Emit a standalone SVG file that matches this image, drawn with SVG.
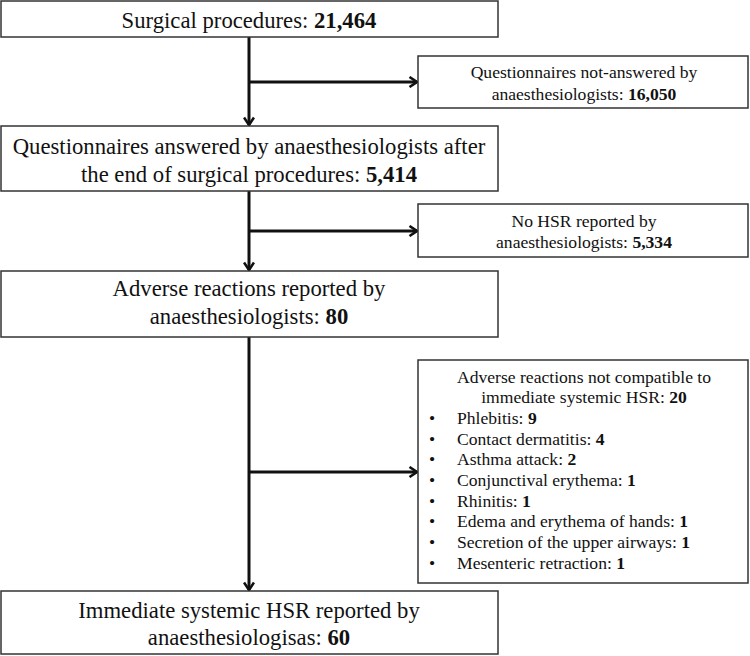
<svg xmlns="http://www.w3.org/2000/svg" width="750" height="656" viewBox="0 0 750 656">
<defs>
<marker id="ah" viewBox="0 0 12 12" refX="10.5" refY="6" markerWidth="12" markerHeight="12" markerUnits="userSpaceOnUse" orient="auto">
<path d="M3,1 L10.5,6 L3,11" fill="none" stroke="#111" stroke-width="2.6"/>
</marker>
</defs>
<style>
.box{fill:#fff;stroke:#333;stroke-width:1.5}
text{fill:#111}
.big{font-size:22.7px;text-anchor:middle}
.sm{font-size:17.6px}
.c{text-anchor:middle}
.b{font-weight:bold}
.conn{fill:none;stroke:#111;stroke-width:3}
</style>
<rect width="750" height="656" fill="#fff"/>
<g id="connectors">
<path class="conn" d="M249,37 V125" marker-end="url(#ah)"/>
<path class="conn" d="M249,82 H417" marker-end="url(#ah)"/>
<path class="conn" d="M249,191 V270" marker-end="url(#ah)"/>
<path class="conn" d="M249,231 H417" marker-end="url(#ah)"/>
<path class="conn" d="M249,337 V590" marker-end="url(#ah)"/>
<path class="conn" d="M249,472 H417" marker-end="url(#ah)"/>
</g>
<g font-family="Liberation Serif, DejaVu Serif, serif">
<g id="n1">
<rect class="box" x="1" y="1" width="497" height="36"/>
<text class="big" x="249" y="28">Surgical procedures: <tspan class="b">21,464</tspan></text>
</g>
<g id="n2">
<rect class="box" x="1" y="126" width="497" height="65"/>
<text class="big" x="249" y="154">Questionnaires answered by anaesthesiologists after</text>
<text class="big" x="249" y="182">the end of surgical procedures: <tspan class="b">5,414</tspan></text>
</g>
<g id="n3">
<rect class="box" x="1" y="271" width="497" height="66"/>
<text class="big" x="249" y="296">Adverse reactions reported by</text>
<text class="big" x="249" y="324">anaesthesiologists: <tspan class="b">80</tspan></text>
</g>
<g id="n4">
<rect class="box" x="1" y="591" width="497" height="63"/>
<text class="big" x="249" y="618">Immediate systemic HSR reported by</text>
<text class="big" x="249" y="645">anaesthesiologisas: <tspan class="b">60</tspan></text>
</g>
<g id="nA">
<rect class="box" x="418" y="56" width="330" height="52"/>
<text class="sm c" x="584" y="78">Questionnaires not-answered by</text>
<text class="sm c" x="584" y="100">anaesthesiologists: <tspan class="b">16,050</tspan></text>
</g>
<g id="nB">
<rect class="box" x="418" y="204" width="330" height="53"/>
<text class="sm c" x="584" y="227">No HSR reported by</text>
<text class="sm c" x="584" y="248">anaesthesiologists: <tspan class="b">5,334</tspan></text>
</g>
<g id="nC">
<rect class="box" x="418" y="360" width="330" height="223"/>
<text class="sm c" x="584" y="383">Adverse reactions not compatible to</text>
<text class="sm c" x="584" y="403">immediate systemic HSR: <tspan class="b">20</tspan></text>
<text class="sm" x="429" y="424">•</text><text class="sm" x="457" y="424">Phlebitis: <tspan class="b">9</tspan></text>
<text class="sm" x="429" y="445">•</text><text class="sm" x="457" y="445">Contact dermatitis: <tspan class="b">4</tspan></text>
<text class="sm" x="429" y="465">•</text><text class="sm" x="457" y="465">Asthma attack: <tspan class="b">2</tspan></text>
<text class="sm" x="429" y="486">•</text><text class="sm" x="457" y="486">Conjunctival erythema: <tspan class="b">1</tspan></text>
<text class="sm" x="429" y="507">•</text><text class="sm" x="457" y="507">Rhinitis: <tspan class="b">1</tspan></text>
<text class="sm" x="429" y="527">•</text><text class="sm" x="457" y="527">Edema and erythema of hands: <tspan class="b">1</tspan></text>
<text class="sm" x="429" y="548">•</text><text class="sm" x="457" y="548">Secretion of the upper airways: <tspan class="b">1</tspan></text>
<text class="sm" x="429" y="569">•</text><text class="sm" x="457" y="569">Mesenteric retraction: <tspan class="b">1</tspan></text>
</g>
</g>
</svg>
